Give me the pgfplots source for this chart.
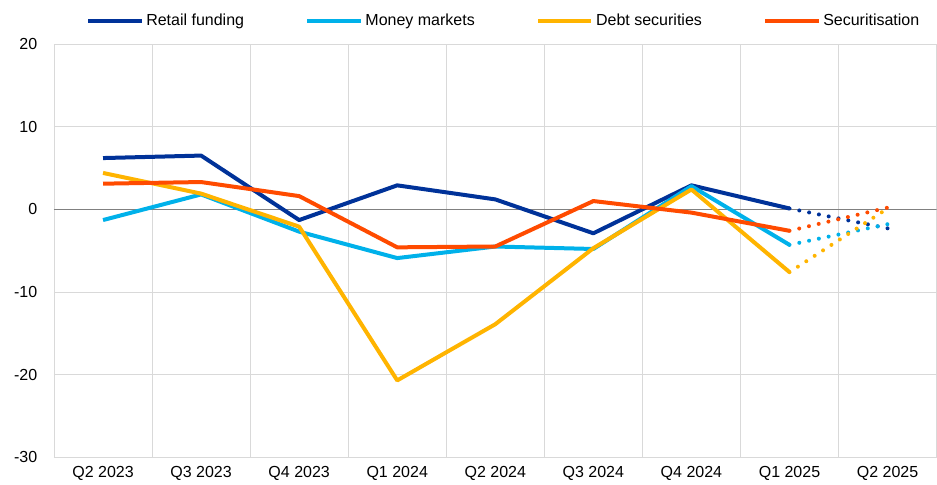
\documentclass[border=0pt]{standalone}
\usepackage{fontspec}
\setmainfont{Liberation Sans}
\usepackage{pgfplots}
\pgfplotsset{compat=1.18}
\definecolor{ecbblue}{HTML}{003299}
\definecolor{ecbsky}{HTML}{00B1EA}
\definecolor{ecbyellow}{HTML}{FFB400}
\definecolor{ecborange}{HTML}{FF4B00}
\begin{document}
\begin{tikzpicture}
\begin{axis}[
    scale only axis,
    width=662pt, height=310pt,
    xmin=-0.5, xmax=8.5,
    ymin=-30, ymax=20,
    ytick={-30,-20,...,20},
    xtick={0,...,8},
    xticklabels={Q2 2023,Q3 2023,Q4 2023,Q1 2024,Q2 2024,Q3 2024,Q4 2024,Q1 2025,Q2 2025},
    minor xtick={-0.5,0.5,...,8.5},
    xminorgrids, ymajorgrids,
    grid style={gray!30, line width=0.6pt},
    minor grid style={gray!30, line width=0.6pt},
    axis line style={draw=none},
    major tick length=0pt, minor tick length=0pt,
    tick label style={font=\fontsize{12}{14}\selectfont},
    yticklabel style={xshift=-9pt},
    xticklabel style={yshift=-3pt},
    /pgf/number format/assume math mode=true,
    legend style={at={(0.51,1)}, anchor=south, yshift=10pt, draw=none, legend columns=4,
        font=\fontsize{12}{14}\selectfont, inner sep=0pt,
        /tikz/every even column/.append style={column sep=44pt}},
    legend image code/.code={\draw[#1, line width=3pt] (0pt,0pt) -- (40pt,0pt);},
    every axis plot/.append style={line width=3pt, line join=round},
]
\draw[gray, line width=0.8pt] (axis cs:-0.5,0) -- (axis cs:8.5,0);
\addplot[ecbblue, mark=none] coordinates {(0,6.2) (1,6.5) (2,-1.3) (3,2.9) (4,1.2) (5,-2.9) (6,2.9) (7,0.1)};
\addlegendentry{Retail funding}
\addplot[ecbsky, mark=none] coordinates {(0,-1.3) (1,1.8) (2,-2.7) (3,-5.9) (4,-4.5) (5,-4.8) (6,2.8) (7,-4.3)};
\addlegendentry{Money markets}
\addplot[ecbyellow, mark=none] coordinates {(0,4.4) (1,1.9) (2,-2.1) (3,-20.7) (4,-13.9) (5,-4.7) (6,2.4) (7,-7.6)};
\addlegendentry{Debt securities}
\addplot[ecborange, mark=none] coordinates {(0,3.1) (1,3.3) (2,1.6) (3,-4.6) (4,-4.5) (5,1.0) (6,-0.4) (7,-2.6)};
\addlegendentry{Securitisation}
\addplot[ecbblue, forget plot, line cap=round, dash pattern=on 0pt off 7.5pt] coordinates {(7,0.1) (8,-2.3)};
\addplot[ecbsky, forget plot, line cap=round, dash pattern=on 0pt off 7.5pt] coordinates {(7,-4.3) (8,-1.8)};
\addplot[ecbyellow, forget plot, line cap=round, dash pattern=on 0pt off 7.5pt] coordinates {(7,-7.6) (8,0.1)};
\addplot[ecborange, forget plot, line cap=round, dash pattern=on 0pt off 7.5pt] coordinates {(7,-2.6) (8,0.2)};
\end{axis}
\path (current axis.north) ++(0,33pt);
\path (current axis.south west) ++(-40.5pt,-20pt);
\end{tikzpicture}
\end{document}
